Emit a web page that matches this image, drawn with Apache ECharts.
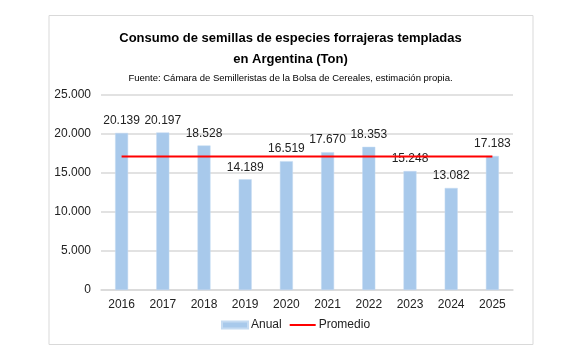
<!DOCTYPE html>
<html>
<head>
<meta charset="utf-8">
<script src="https://cdn.jsdelivr.net/npm/echarts@6/dist/echarts.min.js"></script>
<style>html,body{margin:0;padding:0;background:#fff;}#c{width:581px;height:360px;}</style>
</head>
<body>
<div id="c"></div>
<script>
const categories = ['2016','2017','2018','2019','2020','2021','2022','2023','2024','2025'];
const anual = [20139, 20197, 18528, 14189, 16519, 17670, 18353, 15248, 13082, 17183];
const promedio = [17111, 17111, 17111, 17111, 17111, 17111, 17111, 17111, 17111, 17111];
const yTicks = [0, 5000, 10000, 15000, 20000, 25000];

function fmt(v){ return String(v).replace(/\B(?=(\d{3})+(?!\d))/g, '.'); }

const chart = echarts.init(document.getElementById('c'), null, {renderer:'canvas'});
const FONT = '"Liberation Sans Narrow", "Liberation Sans", Arial, sans-serif';
chart.setOption({
  animation: false,
  backgroundColor: '#fff',
  graphic: [{
    type: 'rect', shape: {x: 49, y: 15.5, width: 484, height: 329},
    style: {fill: 'none', stroke: '#d9d9d9', lineWidth: 1}, silent: true
  }],
  title: [{
    text: 'Consumo de semillas de especies forrajeras templadas\nen Argentina (Ton)',
    left: 'center', top: 23,
    textStyle: {fontFamily: FONT, fontWeight: 'bold', fontSize: 13, color: '#000', lineHeight: 21}
  }, {
    text: 'Fuente: Cámara de Semilleristas de la Bolsa de Cereales, estimación propia.',
    left: 'center', top: 68,
    textStyle: {fontFamily: FONT, fontWeight: 'normal', fontSize: 9.5, color: '#000'}
  }],
  grid: {left: 101, right: 68, top: 95, bottom: 70, containLabel: false},
  legend: {
    bottom: 24, left: 216, itemGap: 8, itemWidth: 26, itemHeight: 7,
    textStyle: {fontFamily: FONT, fontSize: 12, color: '#222', padding: [0,0,0,-2]},
    data: [{name: 'Anual', icon: 'rect'}, {name: 'Promedio', icon: 'path://M0,0H26V2H0Z'}]
  },
  xAxis: {
    type: 'category', data: categories,
    axisLine: {show: true, lineStyle: {color: '#d9d9d9', width: 1.5}},
    axisTick: {show: false},
    axisLabel: {fontFamily: FONT, fontSize: 12, color: '#222', margin: 9}
  },
  yAxis: {
    type: 'value', min: 0, max: 25000, interval: 5000,
    axisLine: {show: false}, axisTick: {show: false},
    splitLine: {lineStyle: {color: '#d9d9d9', width: 1.5}},
    axisLabel: {fontFamily: FONT, fontSize: 12, color: '#222', margin: 10,
      formatter: v => yTicks.includes(v) ? fmt(v) : ''}
  },
  series: [{
    name: 'Anual', type: 'bar', data: anual, barWidth: 13,
    itemStyle: {color: '#a8c9eb', borderColor: '#c5dbf2', borderWidth: 0.5},
    label: {show: true, position: 'top', distance: 6, fontFamily: FONT, fontSize: 12, color: '#222',
      formatter: p => fmt(p.value)}
  }, {
    name: 'Promedio', type: 'line', data: promedio, symbol: 'none',
    lineStyle: {color: '#ff0000', width: 2}, itemStyle: {color: '#ff0000'}
  }]
});
</script>
</body>
</html>
